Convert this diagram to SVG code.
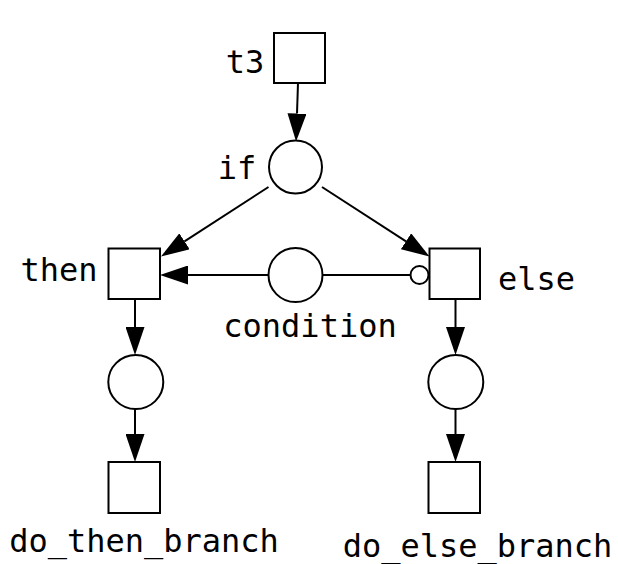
<svg xmlns="http://www.w3.org/2000/svg" width="618" height="564" viewBox="0 0 618 564">
<style>
.n{fill:#fff;stroke:#000;stroke-width:2}
.e{fill:none;stroke:#000;stroke-width:2}
text{font-family:"DejaVu Sans Mono","Liberation Mono",monospace;font-size:32px;fill:#000;text-anchor:middle}
</style>
<defs>
<marker id="ah" viewBox="0 0 28 19" refX="0" refY="9.5" markerWidth="28" markerHeight="19" markerUnits="userSpaceOnUse" orient="auto">
<path d="M0,0 L28,9.5 L0,19 z" fill="#000"/>
</marker>
</defs>
<rect width="618" height="564" fill="#fff"/>
<g id="connectors">
<path class="e" d="M298,83 L297,113.5" marker-end="url(#ah)"/>
<path class="e" d="M268.5,187 L184.5,241.3" marker-end="url(#ah)"/>
<path class="e" d="M322,187 L406,241.3" marker-end="url(#ah)"/>
<path class="e" d="M268,275 L188,275" marker-end="url(#ah)"/>
<path class="e" d="M322.5,275 L410.5,275"/>
<circle class="n" cx="419.5" cy="275" r="9"/>
<path class="e" d="M135,299 L135,327" marker-end="url(#ah)"/>
<path class="e" d="M135,409 L135,434" marker-end="url(#ah)"/>
<path class="e" d="M455.5,299 L455.5,327" marker-end="url(#ah)"/>
<path class="e" d="M455.5,409 L455.5,434" marker-end="url(#ah)"/>
</g>
<g id="t3"><rect class="n" x="274" y="33" width="51" height="50"/><text x="245" y="73">t3</text></g>
<g id="if"><circle class="n" cx="295.5" cy="167" r="26.5"/><text x="237" y="179">if</text></g>
<g id="then"><rect class="n" x="108.5" y="248.5" width="51.5" height="50.5"/><text x="59" y="281">then</text></g>
<g id="else"><rect class="n" x="429.5" y="248.5" width="50.5" height="50.5"/><text x="536.5" y="290">else</text></g>
<g id="condition"><circle class="n" cx="295.5" cy="275" r="27"/><text x="310" y="337">condition</text></g>
<g id="p_then"><ellipse class="n" cx="135.8" cy="382" rx="27.5" ry="27"/></g>
<g id="p_else"><ellipse class="n" cx="455.8" cy="382" rx="27.5" ry="27"/></g>
<g id="do_then_branch"><rect class="n" x="108.5" y="462" width="51.5" height="51"/><text x="144" y="552">do_then_branch</text></g>
<g id="do_else_branch"><rect class="n" x="428.5" y="462" width="51.5" height="51"/><text x="477.5" y="557">do_else_branch</text></g>
</svg>
